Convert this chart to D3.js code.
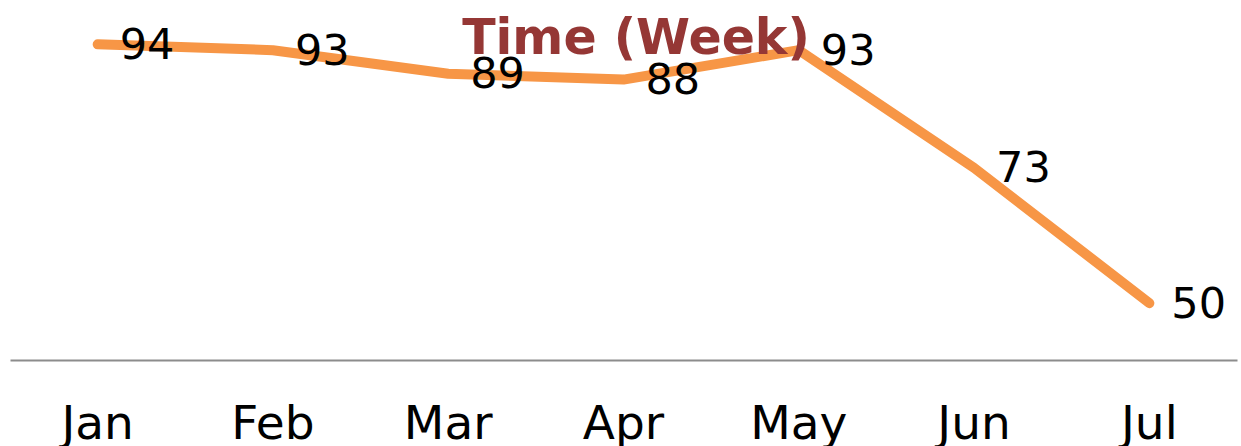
<!DOCTYPE html>
<html>
<head>
<meta charset="utf-8">
<script src="https://cdn.jsdelivr.net/npm/d3@7"></script>
<style>
  body { margin: 0; background: #fff; }
  text { font-family: "DejaVu Sans", sans-serif; }
</style>
</head>
<body>
<div id="chart"></div>
<script>
// chart data
var months = ["Jan", "Feb", "Mar", "Apr", "May", "Jun", "Jul"];
var values = [94, 93, 89, 88, 93, 73, 50];
var chartTitle = "Time (Week)";

var svgWidth = 1241;
var svgHeight = 446;

var svg = d3.select("#chart")
  .append("svg")
  .attr("width", svgWidth)
  .attr("height", svgHeight)
  .style("display", "block");

var axisY = 360;

var xScale = d3.scaleBand()
  .domain(months)
  .range([10, 1237])
  .padding(0);

var yScale = d3.scaleLinear()
  .domain([40, 100])
  .range([362, 9]);

// x axis
var xAxis = d3.axisBottom(xScale).tickSize(0).tickSizeOuter(0);
var axisG = svg.append("g")
  .attr("transform", `translate(0, ${axisY})`)
  .call(xAxis);

axisG.select(".domain")
  .attr("stroke", "#8c8c8c")
  .attr("stroke-width", 2);

axisG.selectAll("text")
  .attr("y", 79)
  .attr("dy", 0)
  .attr("font-family", "DejaVu Sans, sans-serif")
  .attr("font-size", "47px")
  .attr("fill", "#000");

var cx = d => xScale(d.m) + xScale.bandwidth() / 2;

var data = months.map((m, i) => ({ m: m, v: values[i] }));

// line
var line = d3.line()
  .x(cx)
  .y(d => yScale(d.v));

svg.append("path")
  .datum(data)
  .attr("d", line)
  .attr("fill", "none")
  .attr("stroke", "#F79646")
  .attr("stroke-width", 10)
  .attr("stroke-linecap", "round")
  .attr("stroke-linejoin", "round");

// title (drawn over the line)
svg.append("text")
  .attr("x", 636)
  .attr("y", 54)
  .attr("text-anchor", "middle")
  .attr("font-size", "49px")
  .attr("font-weight", "bold")
  .attr("fill", "#953735")
  .text(chartTitle);

// data labels
svg.selectAll(".lbl")
  .data(data)
  .enter()
  .append("text")
  .attr("class", "lbl")
  .attr("x", d => cx(d) + 22)
  .attr("y", d => yScale(d.v) + 3)
  .attr("dominant-baseline", "middle")
  .attr("font-size", "43px")
  .attr("fill", "#000")
  .text(d => d.v);
</script>
</body>
</html>
